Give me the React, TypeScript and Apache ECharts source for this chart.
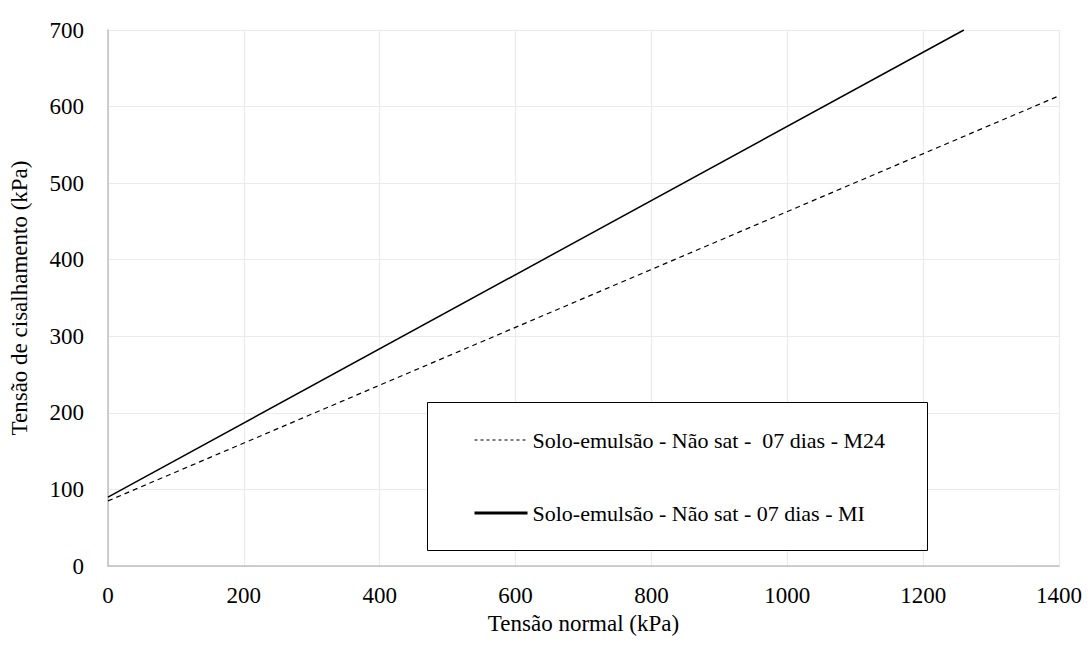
import React, { useEffect, useRef } from "react";
import * as echarts from "echarts";

const seriesNames = [
  "Solo-emulsão - Não sat -  07 dias - M24",
  "Solo-emulsão - Não sat - 07 dias - MI",
];
const m24Points: [number, number][] = [
  [0, 85],
  [1400, 614],
];
const miPoints: [number, number][] = [
  [0, 90],
  [1260, 700],
];
const xTitle = "Tensão normal (kPa)";
const yTitle = "Tensão de cisalhamento (kPa)";

const FONT = "Liberation Serif";
const FS = 23;
const LFS = 22;

export default function App() {
  const ref = useRef<HTMLDivElement>(null);
  useEffect(() => {
    if (!ref.current) return;
    const chart = echarts.init(ref.current, undefined, { renderer: "svg" });
    chart.setOption({
      animation: false,
      backgroundColor: "#ffffff",
      textStyle: { fontFamily: FONT, color: "#000" },
      grid: { left: 108, right: 29, top: 30, bottom: 83 },
      xAxis: {
        type: "value",
        min: 0,
        max: 1400,
        interval: 200,
        name: xTitle,
        nameLocation: "middle",
        nameGap: 46,
        nameTextStyle: { fontFamily: FONT, fontSize: FS, color: "#000" },
        axisLine: { show: true, lineStyle: { color: "#bfbfbf", width: 1.5 } },
        axisTick: { show: false },
        axisLabel: {
          fontFamily: FONT,
          fontSize: FS,
          color: "#000",
          margin: 18,
          formatter: (v: number) => String(v),
        },
        splitLine: { show: true, lineStyle: { color: "#ebebeb", width: 1.2 } },
      },
      yAxis: {
        type: "value",
        min: 0,
        max: 700,
        interval: 100,
        name: yTitle,
        nameLocation: "middle",
        nameGap: 77,
        nameTextStyle: { fontFamily: FONT, fontSize: FS, color: "#000" },
        axisLine: { show: true, lineStyle: { color: "#bfbfbf", width: 1.5 } },
        axisTick: { show: false },
        axisLabel: {
          fontFamily: FONT,
          fontSize: FS,
          color: "#000",
          margin: 24,
          formatter: (v: number) => String(v),
        },
        splitLine: { show: true, lineStyle: { color: "#ebebeb", width: 1.2 } },
      },
      graphic: [
        {
          type: "rect",
          left: 427,
          top: 402,
          shape: { width: 500, height: 148 },
          style: { fill: "#ffffff", stroke: "#000000", lineWidth: 1 },
          z: 10,
        },
      ],
      legend: {
        orient: "vertical",
        left: 468,
        top: 424,
        itemWidth: 53,
        itemHeight: 14,
        itemGap: 51,
        z: 20,
        textStyle: { fontFamily: FONT, fontSize: LFS, color: "#000", padding: [0, 0, 0, 0] },
        data: [
          {
            name: seriesNames[0],
            itemStyle: { opacity: 0 },
            lineStyle: { width: 1.2, type: [3, 3], color: "#000" },
          },
          {
            name: seriesNames[1],
            itemStyle: { opacity: 0 },
            lineStyle: { width: 3, color: "#000" },
          },
        ],
      },
      series: [
        {
          name: seriesNames[0],
          type: "line",
          data: m24Points,
          symbol: "none",
          lineStyle: { color: "#000", width: 1.2, type: [5, 4] },
          itemStyle: { color: "#000" },
        },
        {
          name: seriesNames[1],
          type: "line",
          data: miPoints,
          symbol: "none",
          lineStyle: { color: "#000", width: 1.5 },
          itemStyle: { color: "#000" },
        },
      ],
    });
    return () => chart.dispose();
  }, []);
  return (
    <div
      ref={ref}
      style={{ position: "absolute", left: 0, top: 0, width: 1088, height: 649 }}
    />
  );
}
